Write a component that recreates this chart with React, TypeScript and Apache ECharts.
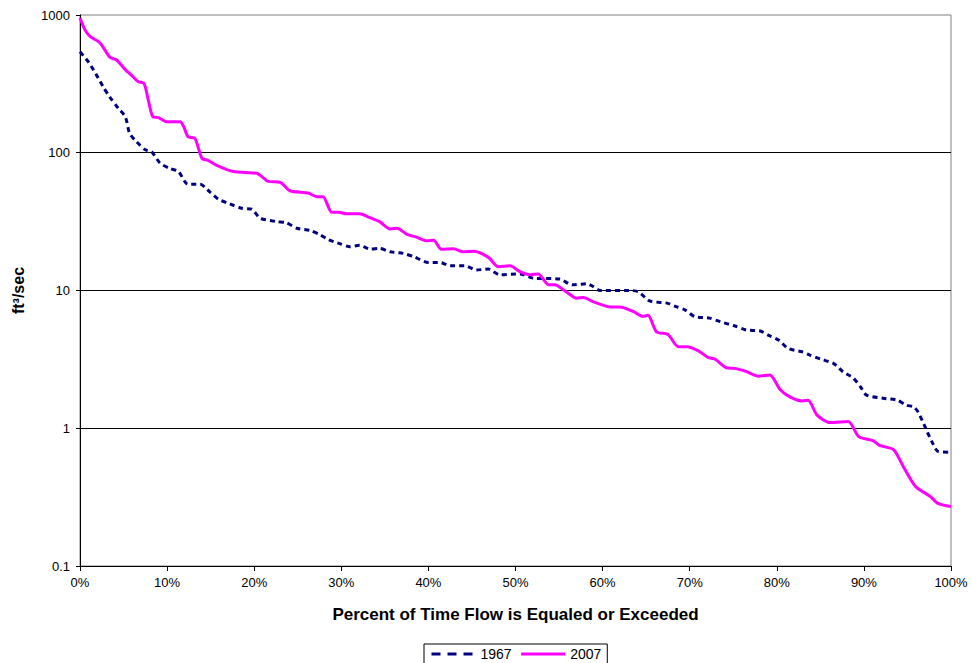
import React, { useEffect, useRef } from "react";
import * as echarts from "echarts";

const xTicks = [0, 10, 20, 30, 40, 50, 60, 70, 80, 90, 100];
const yTicks = [0.1, 1, 10, 100, 1000];

const flow1967: [number, number][] = [
  [0, 540], [0.95, 458], [1.9, 366], [2.7, 298], [3.4, 255], [4.4, 210], [5.2, 183], [5.7, 138],
  [6.5, 120], [7.5, 105], [8.2, 102], [9.2, 84], [10.3, 77], [11.3, 73], [12.4, 59], [13.8, 59],
  [14.9, 52], [15.9, 46], [17.2, 42.5], [18.6, 39.5], [19.7, 38.9], [20.7, 33.5], [22.6, 31.6],
  [23.7, 31], [24.9, 28.3], [26.4, 27.3], [27.6, 25.3], [28.5, 23.4], [29.9, 21.8], [31.0, 20.8],
  [32.1, 21.3], [33.3, 20], [34.4, 20.2], [35.6, 19.1], [37.1, 18.6], [38.3, 17.6], [40.0, 16],
  [41.3, 16], [42.5, 15.1], [44.2, 15.1], [45.5, 14.1], [46.9, 14.3], [48.2, 13.0], [50.5, 13.2],
  [52.0, 12.3], [55.1, 12.1], [56.5, 11.0], [58.2, 11.2], [58.9, 10.7], [59.7, 10.0], [63.1, 10],
  [64.1, 9.8], [65.4, 8.4], [67.4, 8.1], [68.3, 7.7], [69.5, 7.2], [70.6, 6.45], [72.3, 6.3],
  [73.5, 5.94], [75.2, 5.52], [76.5, 5.17], [78.1, 5.08], [79.0, 4.75], [80.2, 4.37], [81.3, 3.8],
  [82.9, 3.59], [83.8, 3.4], [85.0, 3.18], [86.5, 2.96], [87.6, 2.57], [88.8, 2.31], [89.6, 2.0],
  [90.3, 1.74], [92.2, 1.65], [93.8, 1.6], [94.9, 1.47], [95.7, 1.43], [96.2, 1.32], [97.0, 1.03],
  [97.8, 0.8], [98.5, 0.68], [100, 0.67],
];

const flow2007: [number, number][] = [
  [0, 950], [0.57, 780], [1.15, 700], [2.3, 627], [3.44, 493], [4.2, 471], [5.17, 403], [5.9, 366],
  [6.7, 328], [7.35, 319], [7.84, 241], [8.35, 183], [9.0, 180], [9.95, 168], [11.5, 168], [11.9, 155],
  [12.4, 131], [13.2, 127], [14.0, 91], [14.7, 88], [15.7, 81], [17.6, 73], [20.3, 71], [20.9, 67],
  [21.6, 62], [23.0, 61], [24.1, 53], [26.2, 51], [27.2, 48], [27.9, 48], [28.9, 37], [29.7, 37],
  [30.6, 36], [32.1, 36], [33.3, 33.8], [34.4, 31.6], [35.6, 28], [36.4, 28.3], [37.5, 25.7],
  [38.7, 24.3], [39.8, 23], [40.6, 23.2], [41.5, 19.9], [42.9, 20.1], [44, 19.1], [45.2, 19.3],
  [46.9, 17.4], [48, 14.9], [49.4, 15.1], [50.5, 13.7], [51.7, 13.0], [52.6, 13.2], [53.8, 11],
  [54.5, 11], [55.9, 9.7], [57, 8.8], [57.8, 8.9], [58.9, 8.3], [60.9, 7.6], [62, 7.6], [63.5, 7.05],
  [64.6, 6.5], [65.2, 6.6], [66.2, 5.0], [67.5, 4.8], [68.7, 3.9], [69.7, 3.9], [71, 3.64], [72.1, 3.27],
  [72.9, 3.18], [74.2, 2.75], [75.2, 2.72], [76.5, 2.58], [77.9, 2.39], [79.2, 2.44], [80.4, 1.9],
  [81.5, 1.69], [82.9, 1.58], [83.6, 1.6], [84.6, 1.25], [86.1, 1.1], [88.2, 1.12], [89.4, 0.87],
  [91.1, 0.81], [91.8, 0.75], [93.4, 0.7], [94.5, 0.53], [95.9, 0.38], [97.6, 0.32], [98.5, 0.285],
  [100, 0.27],
];

const FONT = "'Liberation Sans', Arial, sans-serif";

export default function App() {
  const ref = useRef<HTMLDivElement>(null);
  useEffect(() => {
    if (!ref.current) return;
    const chart = echarts.init(ref.current, undefined, { renderer: "svg" });
    chart.setOption({
      animation: false,
      backgroundColor: "#ffffff",
      textStyle: { fontFamily: FONT },
      grid: {
        left: 80,
        right: 21,
        top: 15,
        bottom: 97,
        show: true,
        borderColor: "#808080",
        borderWidth: 1,
        containLabel: false,
      },
      legend: {
        left: 424,
        top: 644,
        padding: [3, 6],
        itemGap: 8,
        itemWidth: 44,
        itemHeight: 12,
        borderColor: "#000000",
        borderWidth: 1,
        itemStyle: { opacity: 0 },
        textStyle: { fontFamily: FONT, fontSize: 14, color: "#000" },
        data: [
          { name: "1967", lineStyle: { type: [9, 7], width: 3 } },
          { name: "2007", lineStyle: { width: 3 } },
        ],
      },
      xAxis: {
        type: "value",
        min: xTicks[0],
        max: xTicks[xTicks.length - 1],
        interval: 10,
        name: "Percent of Time Flow is Equaled or Exceeded",
        nameLocation: "middle",
        nameGap: 40,
        nameTextStyle: { fontFamily: FONT, fontSize: 17, fontWeight: "bold", color: "#000" },
        axisLine: { show: true, lineStyle: { color: "#000", width: 1 } },
        axisTick: { show: true, inside: false, length: 5, lineStyle: { color: "#000" } },
        axisLabel: {
          formatter: "{value}%",
          fontFamily: FONT,
          fontSize: 13,
          color: "#000",
          margin: 10,
        },
        splitLine: { show: false },
      },
      yAxis: {
        type: "log",
        logBase: 10,
        min: yTicks[0],
        max: yTicks[yTicks.length - 1],
        name: "ft³/sec",
        nameLocation: "middle",
        nameRotate: 90,
        nameGap: 54,
        nameTextStyle: { fontFamily: FONT, fontSize: 16, fontWeight: "bold", color: "#000" },
        axisLine: { show: true, lineStyle: { color: "#000", width: 1 } },
        axisTick: { show: true, inside: false, length: 4, lineStyle: { color: "#000" } },
        axisLabel: {
          fontFamily: FONT,
          fontSize: 13,
          color: "#000",
          margin: 10,
          formatter: (v: number) => String(v),
        },
        minorTick: { show: false },
        splitLine: {
          show: true,
          showMaxLine: false,
          showMinLine: false,
          lineStyle: { color: "#000", width: 1 },
        },
      },
      series: [
        {
          name: "1967",
          type: "line",
          data: flow1967,
          symbol: "none",
          smooth: 0.25,
          lineStyle: { color: "#000080", width: 3, type: [5, 4] },
          itemStyle: { color: "#000080" },
          z: 3,
        },
        {
          name: "2007",
          type: "line",
          data: flow2007,
          symbol: "none",
          smooth: 0.25,
          lineStyle: { color: "#ff00ff", width: 3 },
          itemStyle: { color: "#ff00ff" },
          z: 4,
        },
      ],
    });
    return () => chart.dispose();
  }, []);
  return <div ref={ref} style={{ width: 972, height: 663, position: "absolute", left: 0, top: 0 }} />;
}
